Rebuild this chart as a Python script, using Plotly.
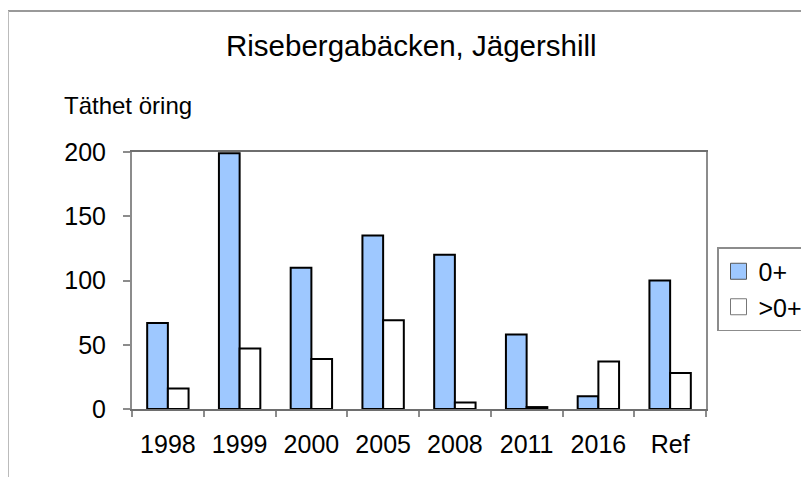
import plotly.graph_objects as go

categories = ["1998", "1999", "2000", "2005", "2008", "2011", "2016", "Ref"]
series_0plus = [67, 199, 110, 135, 120, 58, 10, 100]
series_gt0plus = [16, 47, 39, 69, 5, 1.5, 37, 28]
series_names = ["0+", ">0+"]
y_ticks = [0, 50, 100, 150, 200]

FONT = "Liberation Sans, Arial, sans-serif"
BLUE = "#9ec8ff"

OFF = 8  # page body margin in the browser
W, H = 809 - OFF, 477 - OFF
L, R, T, B = 132, 706, 152, 409  # plot area in reference pixels

def px(x):
    return (x - L) / (R - L)

def py(y):
    return (B - y) / (B - T)

fig = go.Figure()
fig.add_trace(go.Bar(x=categories, y=series_0plus, name=series_names[0],
                     marker=dict(color=BLUE, line=dict(color="black", width=2)),
                     showlegend=False))
fig.add_trace(go.Bar(x=categories, y=series_gt0plus, name=series_names[1],
                     marker=dict(color="white", line=dict(color="black", width=2)),
                     showlegend=False))
# legend proxies
fig.add_trace(go.Scatter(x=[None], y=[None], mode="markers", name=series_names[0],
                         marker=dict(symbol="square", size=16, color=BLUE,
                                     line=dict(color="#555", width=1))))
fig.add_trace(go.Scatter(x=[None], y=[None], mode="markers", name=series_names[1],
                         marker=dict(symbol="square", size=16, color="white",
                                     line=dict(color="#777", width=1))))

fig.update_layout(
    width=W, height=H,
    margin=dict(l=L - OFF, r=809 - R, t=T - OFF, b=477 - B, autoexpand=False),
    paper_bgcolor="white", plot_bgcolor="white",
    font=dict(family=FONT, color="black", size=25),
    barmode="group", bargap=0.423, bargroupgap=0,
    showlegend=True,
    legend=dict(x=px(717), y=py(247), xanchor="left", yanchor="top",
                bordercolor="#8c8c8c", borderwidth=1.5, bgcolor="white",
                font=dict(size=25, family=FONT), tracegroupgap=0),
    xaxis=dict(type="category", showline=True, linecolor="#6e6e6e", linewidth=2,
               mirror=True, ticks="outside", tickson="boundaries", ticklen=6,
               tickcolor="#8c8c8c", tickwidth=1.5, showgrid=False,
               tickfont=dict(size=25), ticklabelstandoff=12),
    yaxis=dict(range=[0, 200], tickvals=y_ticks, showline=True, linecolor="#8c8c8c",
               linewidth=2, mirror=True, ticks="outside", ticklen=7,
               tickcolor="#8c8c8c", tickwidth=1.5, showgrid=False, zeroline=False,
               tickfont=dict(size=25), ticklabelstandoff=12),
    annotations=[
        dict(text="Risebergabäcken, Jägershill", x=px(411), y=py(46),
             xref="paper", yref="paper", xanchor="center", yanchor="middle",
             showarrow=False, font=dict(size=29.5, family=FONT)),
        dict(text="Täthet öring", x=px(62), y=py(105), xref="paper", yref="paper",
             xanchor="left", yanchor="middle", showarrow=False,
             font=dict(size=24, family=FONT)),
    ],
    shapes=[
        dict(type="line", xref="paper", yref="paper", x0=px(8), x1=px(815),
             y0=py(11), y1=py(11), line=dict(color="#999", width=2)),
        dict(type="line", xref="paper", yref="paper", x0=px(8), x1=px(8),
             y0=py(11), y1=py(485), line=dict(color="#bbb", width=2)),
    ],
)

fig.write_html("out.html")
